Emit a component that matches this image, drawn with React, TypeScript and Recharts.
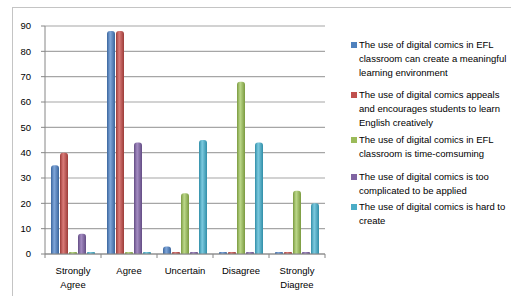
import React from 'react';
import { BarChart, Bar, XAxis, YAxis, CartesianGrid } from 'recharts';

const categories = ['Strongly Agree', 'Agree', 'Uncertain', 'Disagree', 'Strongly Diagree'];
const meaningful = [35, 88, 3, 0, 0];
const appeals = [40, 88, 0, 0, 0];
const timeConsuming = [0, 0, 24, 68, 25];
const complicated = [8, 44, 0, 0, 0];
const hardToCreate = [0, 0, 45, 44, 20];
const yTicks = [0, 10, 20, 30, 40, 50, 60, 70, 80, 90];

const seriesLines = [
  ['The use of digital comics in EFL', 'classroom can create a meaningful', 'learning environment'],
  ['The use of digital comics appeals', 'and encourages students to learn', 'English creatively'],
  ['The use of digital comics in EFL', 'classroom is time-comsuming'],
  ['The use of digital comics is too', 'complicated to be applied'],
  ['The use of digital comics is hard to', 'create'],
];
const seriesValues = [meaningful, appeals, timeConsuming, complicated, hardToCreate];
const keys = ['s1', 's2', 's3', 's4', 's5'];
const colors = ['#4F81BD', '#C0504D', '#9BBB59', '#8064A2', '#4BACC6'];
const darks = ['#3A659C', '#9C3B38', '#7A9A3F', '#634C84', '#318EA8'];
const lights = ['#7FA6DA', '#DA7C79', '#BCD88A', '#A48CC2', '#7CCADF'];
const legendTops = [38, 88, 133, 170, 200];

const data = categories.map((c, i) => {
  const row: Record<string, string | number> = { name: c };
  keys.forEach((k, j) => { row[k] = seriesValues[j][i]; });
  return row;
});

const font = '"Liberation Sans", Arial, sans-serif';

function CatTick(props: any) {
  const { x, y, payload, index } = props;
  const words = String(payload.value).split(' ');
  const half = 28;
  return (
    <g>
      <line x1={x - half} y1={y - 8} x2={x - half} y2={y - 4} stroke="#868686" />
      {index === categories.length - 1 && (
        <line x1={x + half} y1={y - 8} x2={x + half} y2={y - 4} stroke="#868686" />
      )}
      <text x={x} y={y + 12} textAnchor="middle" fontSize={9.5} fill="#000" fontFamily={font}>
        {words.map((l: string, i: number) => (
          <tspan key={i} x={x} dy={i === 0 ? 0 : 14}>{l}</tspan>
        ))}
      </text>
    </g>
  );
}

function LegendBox() {
  return (
    <div style={{ position: 'absolute', left: 350, top: 0, width: 160, height: 240, fontFamily: font, fontSize: 9.5, color: '#000' }}>
      {seriesLines.map((lines, i) => (
        <div key={i} style={{ position: 'absolute', left: 0, top: legendTops[i] }}>
          <div style={{ position: 'absolute', left: 1, top: 4, width: 6, height: 6, background: colors[i] }} />
          <div style={{ position: 'absolute', left: 9, top: 0, whiteSpace: 'nowrap', lineHeight: '14px' }}>
            {lines.map((l, j) => <div key={j}>{l}</div>)}
          </div>
        </div>
      ))}
    </div>
  );
}

export default function App() {
  return (
    <div style={{ position: 'absolute', left: 0, top: 0, width: 511, height: 296, background: '#fff', overflow: 'hidden' }}>
      <div style={{ position: 'absolute', left: 12, top: 7, width: 520, height: 300, borderTop: '1px solid #c4c4c4', borderLeft: '1px solid #c4c4c4' }} />
      <BarChart
        width={511}
        height={296}
        data={data}
        margin={{ top: 26, right: 186, bottom: 0, left: 10 }}
        barSize={8}
        barGap={1}
      >
        <defs>
          {colors.map((c, i) => (
            <linearGradient key={i} id={`g${i}`} x1="0" y1="0" x2="1" y2="0">
              <stop offset="0%" stopColor={darks[i]} />
              <stop offset="40%" stopColor={lights[i]} />
              <stop offset="100%" stopColor={darks[i]} />
            </linearGradient>
          ))}
        </defs>
        <CartesianGrid vertical={false} stroke="#a6a6a6" strokeWidth={1.2} />
        <XAxis
          dataKey="name"
          axisLine={{ stroke: '#868686' }}
          tickLine={false}
          interval={0}
          tick={<CatTick />}
          height={42}
        />
        <YAxis
          domain={[0, 90]}
          ticks={yTicks}
          width={35}
          axisLine={{ stroke: '#868686' }}
          tickLine={{ stroke: '#868686' }}
          tickSize={4}
          tickMargin={10}
          tick={{ fontSize: 9.5, fill: '#000', fontFamily: font }}
        />
        {keys.map((k, i) => (
          <Bar
            key={k}
            dataKey={k}
            name={seriesLines[i].join(' ')}
            fill={`url(#g${i})`}
            radius={[3, 3, 0, 0]}
            minPointSize={2}
            isAnimationActive={false}
          />
        ))}
      </BarChart>
      <LegendBox />
    </div>
  );
}
